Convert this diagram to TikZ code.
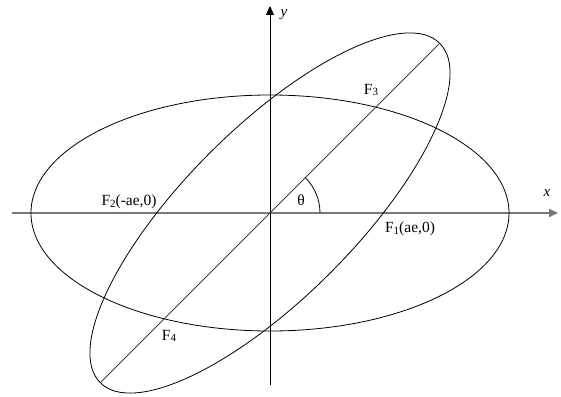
\documentclass[tikz,border=0pt]{standalone}
\usepackage{fontspec}
\setmainfont{Liberation Serif}
\usetikzlibrary{arrows.meta}
\definecolor{axisgray}{RGB}{120,120,120}
\newcommand{\fsub}[1]{\raisebox{-1.5pt}{\fontsize{11}{11}\selectfont #1}}

\begin{document}
\begin{tikzpicture}[x=1pt, y=1pt,
    curve/.style={draw=black, line width=0.8pt},
    axisline/.style={line width=1pt, -{Triangle[length=9pt, width=8pt]}},
    lbl/.style={font=\fontsize{15.5}{17}\selectfont, inner sep=0pt}
]
    \useasboundingbox (-270,-183) rectangle (291,213);

    % Axes
    \coordinate (o) at (0,0);
    \coordinate (xl) at (-258,0);
    \coordinate (xr) at (288,0);
    \coordinate (yb) at (0,-172);
    \coordinate (yt) at (0,207);
    \draw[axisline, draw=axisgray, line width=2pt] (xl) -- (xr);
    \draw[axisline] (yb) -- (yt);

    % The two ellipses
    \draw[curve] (o) ellipse [x radius=239pt, y radius=118pt];
    \draw[curve, rotate around={45:(o)}] (o) ellipse [x radius=240pt, y radius=85pt];

    % Major axis of the turned ellipse
    \coordinate (m1) at (225:240pt);
    \coordinate (m2) at (45:240pt);
    \draw[draw=black!75, line width=0.8pt] (m1) -- (m2);

    % Angle mark
    \draw[line width=0.8pt] (50pt,0) arc (0:45:50pt);

    % Labels
    \node[lbl, font=\fontsize{15}{17}\selectfont\itshape] (ylbl) at (14,198) {y};
    \node[lbl, font=\fontsize{15}{17}\selectfont\itshape] (xlbl) at (277,20) {x};
    \node[lbl] (th) at (31,13) {θ};
    \node[lbl] (f1) at (140,-16) {F\fsub{1}(ae,0)};
    \node[lbl] (f2) at (-141,11) {F\fsub{2}(-ae,0)};
    \node[lbl] (f3) at (101,123) {F\fsub{3}};
    \node[lbl] (f4) at (-101,-123) {F\fsub{4}};
\end{tikzpicture}
\end{document}
